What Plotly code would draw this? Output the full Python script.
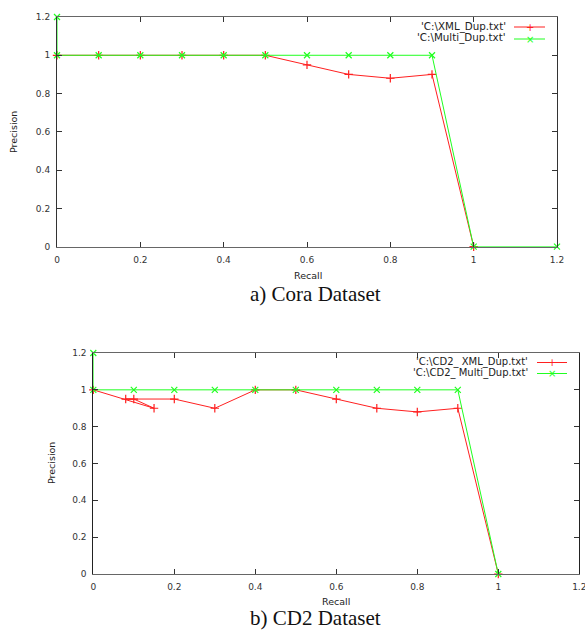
import plotly.graph_objects as go

# ---- data ----
cora_xml_recall = [0, 0.1, 0.2, 0.3, 0.4, 0.5, 0.6, 0.7, 0.8, 0.9, 1.0]
cora_xml_precision = [1, 1, 1, 1, 1, 1, 0.95, 0.9, 0.88, 0.9, 0]
cora_multi_recall = [0, 0, 0.1, 0.2, 0.3, 0.4, 0.5, 0.6, 0.7, 0.8, 0.9, 1.0, 1.2]
cora_multi_precision = [1.2, 1, 1, 1, 1, 1, 1, 1, 1, 1, 1, 0, 0]

cd2_xml_recall = [0, 0.15, 0.1, 0.08, 0.2, 0.3, 0.4, 0.5, 0.6, 0.7, 0.8, 0.9, 1.0]
cd2_xml_precision = [1, 0.9, 0.95, 0.95, 0.95, 0.9, 1, 1, 0.95, 0.9, 0.88, 0.9, 0]
cd2_multi_recall = [0, 0, 0.1, 0.2, 0.3, 0.4, 0.5, 0.6, 0.7, 0.8, 0.9, 1.0]
cd2_multi_precision = [1.2, 1, 1, 1, 1, 1, 1, 1, 1, 1, 1, 0]

tick_vals = [0, 0.2, 0.4, 0.6, 0.8, 1.0, 1.2]
tick_text = ["0", "0.2", "0.4", "0.6", "0.8", "1", "1.2"]

legend_a = ["'C:\\XML_Dup.txt'", "'C:\\Multi_Dup.txt'"]
legend_b = ["'C:\\CD2_ XML_Dup.txt'", "'C:\\CD2_ Multi_Dup.txt'"]
captions = ["a) Cora Dataset", "b) CD2 Dataset"]

W, H = 585, 632
RED = "#ff2020"
GREEN = "#20ff20"

fig = go.Figure()

def px_x(p):
    return p / W

def px_y(p):
    return 1 - p / H

def add_series(x, y, color, symbol, xa, ya):
    fig.add_trace(go.Scatter(
        x=x, y=y, mode="lines+markers", xaxis=xa, yaxis=ya,
        line=dict(color=color, width=1),
        marker=dict(symbol=symbol, size=6, color=color,
                    line=dict(color=color, width=1.2)),
        cliponaxis=False, showlegend=False, hoverinfo="x+y"))

add_series(cora_xml_recall, cora_xml_precision, RED, "cross-thin", "x", "y")
add_series(cora_multi_recall, cora_multi_precision, GREEN, "x-thin", "x", "y")
add_series(cd2_xml_recall, cd2_xml_precision, RED, "cross-thin", "x2", "y2")
add_series(cd2_multi_recall, cd2_multi_precision, GREEN, "x-thin", "x2", "y2")

tickfont = dict(family="DejaVu Sans", size=9, color="#333")

def axis_common(linecolor):
    return dict(range=[0, 1.2], tickvals=tick_vals, ticktext=tick_text,
                ticks="inside", ticklen=5, tickcolor="#333", tickwidth=1,
                showline=True, linecolor=linecolor, linewidth=1,
                mirror="ticks", showgrid=False, zeroline=False,
                tickfont=tickfont, ticklabelstandoff=4, automargin=False,
                ticklabeloverflow="allow")

# top plot: x 57..557, y 17..247
# bottom plot: x 93..579, y 353..574
fig.update_layout(
    width=W, height=H,
    margin=dict(l=0, r=0, t=0, b=0, autoexpand=False),
    paper_bgcolor="white", plot_bgcolor="white",
    xaxis=dict(domain=[px_x(57), px_x(557)], anchor="y", **axis_common("#666")),
    yaxis=dict(domain=[px_y(246.7), px_y(17)], anchor="x", **axis_common("#333")),
    xaxis2=dict(domain=[px_x(93.3), px_x(579.3)], anchor="y2", **axis_common("#666")),
    yaxis2=dict(domain=[px_y(574), px_y(353)], anchor="x2", **axis_common("#222")),
    showlegend=False,
)

annotations = []
shapes = []

def text(x, y, s, size=10, family="DejaVu Sans", xanchor="center", angle=0, color="#222"):
    annotations.append(dict(x=px_x(x), y=px_y(y), xref="paper", yref="paper",
                            text=s, showarrow=False, xanchor=xanchor, yanchor="middle",
                            textangle=angle, font=dict(family=family, size=size, color=color)))

# axis titles
text(307.5, 275, "Recall", size=9.5)
text(13, 132, "Precision", size=9.5, angle=-90)
text(336, 601, "Recall", size=9.5)
text(51, 463, "Precision", size=9.5, angle=-90)

# captions
text(315, 294, captions[0], size=21, family="Liberation Serif", color="#111")
text(315, 618, captions[1], size=21, family="Liberation Serif", color="#111")

def legend_row(label, ytxt, xend, x0, x1, color, sym, size):
    text(xend, ytxt, label, size=size, xanchor="right")
    shapes.append(dict(type="line", xref="paper", yref="paper",
                       x0=px_x(x0), x1=px_x(x1), y0=px_y(ytxt + 1), y1=px_y(ytxt + 1),
                       line=dict(color=color, width=1)))
    annotations.append(dict(x=px_x((x0 + x1) / 2), y=px_y(ytxt + 1), xref="paper", yref="paper",
                            text=sym, showarrow=False, xanchor="center", yanchor="middle",
                            font=dict(family="DejaVu Sans", size=10, color=color)))

legend_row(legend_a[0], 26, 508, 514, 545, RED, "+", 10.3)
legend_row(legend_a[1], 38, 508, 514, 545, GREEN, "×", 10.3)
legend_row(legend_b[0], 361.5, 530, 537, 567, RED, "+", 10)
legend_row(legend_b[1], 372.5, 530, 537, 567, GREEN, "×", 10)

fig.update_layout(annotations=annotations, shapes=shapes)

fig.write_html("out.html", config={"displayModeBar": False},
               post_script="document.body.style.margin='0';document.body.style.overflow='hidden';")
